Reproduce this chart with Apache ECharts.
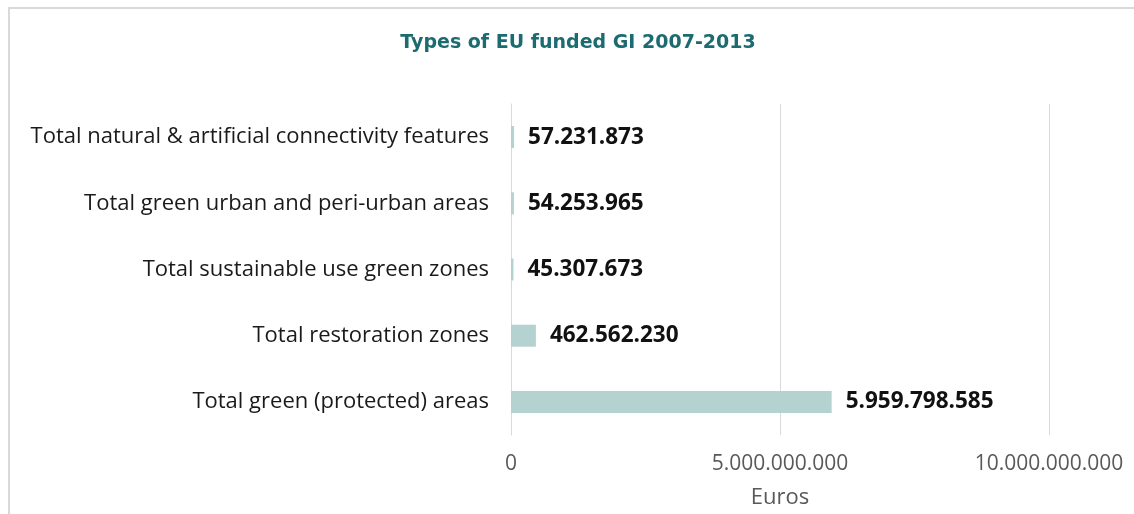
<!DOCTYPE html>
<html>
<head>
<meta charset="utf-8">
<script src="https://cdn.jsdelivr.net/npm/echarts@6/dist/echarts.min.js"></script>
<style>
html,body{margin:0;padding:0;background:#fff;}
#frame{position:absolute;left:8px;top:7px;width:1126px;height:507px;border-top:2px solid #d9d9d9;border-left:2px solid #d9d9d9;box-sizing:border-box;}
#chart{position:absolute;left:0;top:0;width:1134px;height:514px;}
</style>
</head>
<body>
<div id="frame"></div>
<div id="chart"></div>
<script>
var categories = [
  'Total green (protected) areas',
  'Total restoration zones',
  'Total sustainable use green zones',
  'Total green urban and peri-urban areas',
  'Total natural & artificial connectivity features'
];
var values = [5959798585, 462562230, 45307673, 54253965, 57231873];
var xTicks = [0, 5000000000, 10000000000];

function fmt(v){
  return String(Math.round(v)).replace(/\B(?=(\d{3})+(?!\d))/g, '.');
}

var chart = echarts.init(document.getElementById('chart'), null, {renderer:'canvas'});
chart.setOption({
  animation:false,
  backgroundColor:'transparent',
  title:{
    text:'Types of EU funded GI 2007-2013',
    left:573, top:29, textAlign:'center',
    textStyle:{fontFamily:'DejaVu Sans', fontWeight:'bold', fontSize:19, color:'#1b6b70'}
  },
  grid:{left:511, right:85, top:104, bottom:70, containLabel:false},
  xAxis:{
    type:'value', min:xTicks[0], max:xTicks[xTicks.length-1], interval:xTicks[1]-xTicks[0],
    name:'Euros', nameLocation:'middle', nameGap:52,
    nameTextStyle:{fontFamily:'Open Sans', fontSize:22, color:'#595959'},
    axisLine:{show:false}, axisTick:{show:false},
    axisLabel:{fontFamily:'Open Sans', fontSize:21, color:'#595959', margin:19, formatter:fmt},
    splitLine:{lineStyle:{color:'#d9d9d9', width:1}}
  },
  yAxis:{
    type:'category', data:categories,
    axisLine:{show:true, lineStyle:{color:'#d9d9d9', width:1}}, axisTick:{show:false},
    axisLabel:{fontFamily:'Open Sans', fontSize:22, color:'#1a1a1a', margin:22}
  },
  series:[{
    type:'bar', data:values, barWidth:22,
    itemStyle:{color:'#b4d2d0'},
    label:{show:true, position:'right', distance:14, formatter:function(p){return fmt(p.value);},
      fontFamily:'Open Sans', fontWeight:'bold', fontSize:22.5, color:'#111'}
  }]
});
</script>
</body>
</html>
